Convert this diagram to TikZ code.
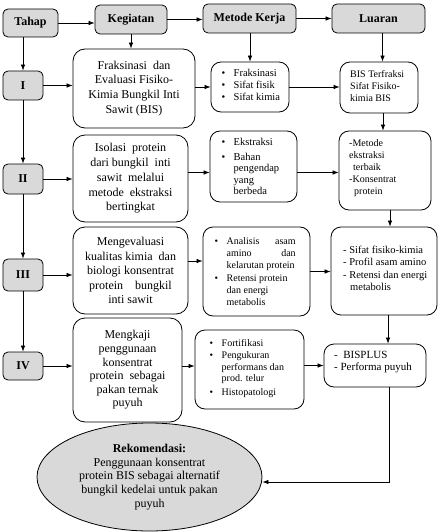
\documentclass[tikz,border=0pt]{standalone}
\usepackage{fontspec}
\setmainfont{Liberation Serif}
\usetikzlibrary{arrows.meta,shapes.geometric,calc}
\definecolor{boxgray}{HTML}{D9D9D9}
\newcommand\bulx{\makebox[12pt][l]{\textbullet}}
\newcommand\indx{\hspace*{12pt}}
\begin{document}
\begin{tikzpicture}[x=1pt,y=-1pt,
  hdr/.style={draw, fill=boxgray, rounded corners=5pt, line width=0.8pt, inner sep=0,
    font=\fontsize{12}{14}\selectfont\bfseries},
  cbox/.style={draw, rounded corners=12pt, line width=0.8pt, inner sep=0, align=center,
    font=\fontsize{12}{14.8}\selectfont},
  sbox/.style={draw, rounded corners=10pt, line width=0.8pt, inner sep=0},
  txt/.style={inner sep=0, anchor=north west, align=left, font=\fontsize{10}{12}\selectfont},
  arr/.style={-{Latex[length=6pt,width=4.5pt]}, line width=0.7pt}]
\useasboundingbox (0,0) rectangle (440,532);

% header row
\node[hdr, minimum width=55pt, minimum height=28pt] (tahap) at (30.5,23) {Tahap};
\node[hdr, minimum width=72pt, minimum height=29pt] (keg) at (131,19.5) {Kegiatan};
\node[hdr, minimum width=93pt, minimum height=29pt] (met) at (249.5,18.5) {Metode Kerja};
\node[hdr, minimum width=93pt, minimum height=29pt] (lua) at (378.5,18.5) {Luaran};

% stages
\node[hdr, minimum width=40pt, minimum height=29pt] (s1) at (23,85.5) {I};
\node[hdr, minimum width=40pt, minimum height=30pt] (s2) at (23,179) {II};
\node[hdr, minimum width=40pt, minimum height=32pt] (s3) at (23,275) {III};
\node[hdr, minimum width=40pt, minimum height=28pt] (s4) at (23,366) {IV};

% kegiatan boxes
\node[cbox, minimum width=122pt, minimum height=79pt] (k1) at (134,88.5)
  {Fraksinasi\ \ dan\\Evaluasi Fisiko-\\Kimia Bungkil Inti\\Sawit (BIS)};
\node[cbox, minimum width=115pt, minimum height=87pt] (k2) at (130.5,178.5)
  {Isolasi\ \ protein\\dari bungkil\ \ inti\\sawit\ \ melalui\\metode\ \ ekstraksi\\bertingkat};
\node[cbox, minimum width=115pt, minimum height=87pt, font=\fontsize{12}{14.5}\selectfont] (k3) at (130.5,270.5)
  {Mengevaluasi\\kualitas kimia\ \ dan\\biologi konsentrat\\protein\ \ \ \ bungkil\\inti sawit};
\node[cbox, minimum width=109pt, minimum height=104pt, font=\fontsize{12}{13.6}\selectfont] (k4) at (127.5,370)
  {Mengkaji\\penggunaan\\konsentrat\\protein\ \ sebagai\\pakan ternak\\puyuh};

% metode boxes
\node[sbox, minimum width=78pt, minimum height=50pt] (m1) at (250,87) {};
\node[sbox, minimum width=87pt, minimum height=71pt] (m2) at (253.5,166.5) {};
\node[sbox, minimum width=107pt, minimum height=89pt] (m3) at (256.5,271.5) {};
\node[sbox, minimum width=109pt, minimum height=79pt] (m4) at (249.5,369.5) {};

% luaran boxes
\node[sbox, minimum width=78pt, minimum height=51pt] (l1) at (379,87.5) {};
\node[sbox, minimum width=92pt, minimum height=79pt] (l2) at (385,170.5) {};
\node[sbox, minimum width=106pt, minimum height=88pt] (l3) at (384,271) {};
\node[sbox, minimum width=102pt, minimum height=43pt] (l4) at (375,365.5) {};

% texts in metode boxes
\node[txt, font=\fontsize{10.5}{12}\selectfont] (tm1) at (221.5,69.5) {\bulx Fraksinasi\\\bulx Sifat fisik\\\bulx Sifat kimia};
\node[txt, font=\fontsize{10.5}{11.5}\selectfont] (tm2) at (221.5,138)
  {\bulx Ekstraksi\\[3.5pt]\bulx Bahan\\\indx pengendap\\\indx yang\\\indx berbeda};
\node[txt] (tm3) at (214.5,237)
  {\bulx\makebox[69pt][s]{Analisis asam}\\\indx\makebox[69pt][s]{amino dan}\\\indx kelarutan protein\\[1pt]\bulx Retensi protein\\\indx dan energi\\\indx metabolis};
\node[txt, font=\fontsize{10}{11.5}\selectfont] (tm4) at (209.5,339)
  {\bulx Fortifikasi\\[1pt]\bulx Pengukuran\\\indx performans dan\\\indx prod. telur\\[2pt]\bulx Histopatologi};

% texts in luaran boxes
\node[txt] (tl1) at (350,70) {BIS Terfraksi\\Sifat Fisiko-\\kimia BIS};
\node[txt] (tl2) at (349,139)
  {-Metode\\ ekstraksi\\\hspace*{4pt}terbaik\\-Konsentrat\\\hspace*{5pt}protein};
\node[txt, font=\fontsize{10.5}{12.3}\selectfont] (tl3) at (343,246)
  {- Sifat fisiko-kimia\\- Profil asam amino\\- Retensi dan energi\\\hspace*{7pt}metabolis};
\node[txt, font=\fontsize{11}{11.5}\selectfont] (tl4) at (334,351.5)
  {-\ \ BISPLUS\\- Performa puyuh};

% recommendation
\node[draw, fill=boxgray, ellipse, line width=0.8pt, minimum width=225pt, minimum height=108pt,
  inner sep=0, align=center, font=\fontsize{12}{13.7}\selectfont] (rek) at (149.5,477)
  {\textbf{Rekomendasi:}\\Penggunaan konsentrat\\protein BIS sebagai alternatif\\bungkil kedelai untuk pakan\\puyuh};

% header arrows
\draw[arr] (tahap.east) -- (tahap.east -| keg.west);
\draw[arr] (keg.east) -- (keg.east -| met.west);
\draw[arr] (met.east) -- (met.east -| lua.west);
\draw[arr] (keg.south) -- (keg.south |- k1.north);
\draw[arr] (met.south -| m1.north) -- (m1.north);
\draw[arr] ([xshift=4pt]lua.south) -- ([xshift=4pt]lua.south |- l1.north);
\draw[arr] (tahap.south -| s1.north) -- (s1.north);

% stage column
\draw[arr] (s1) -- (s2);
\draw[arr] (s2) -- (s3);
\draw[arr] (s3) -- (s4);

% stage to kegiatan
\draw[arr] (s1.east) -- (s1.east -| k1.west);
\draw[arr] (s2.east) -- (s2.east -| k2.west);
\draw[arr] (s3.east) -- (s3.east -| k3.west);
\draw[arr] (s4.east) -- (s4.east -| k4.west);

% kegiatan to metode
\draw[arr] (m1.west -| k1.east) -- (m1.west);
\draw[arr] ([yshift=-6pt]m2.west -| k2.east) -- ([yshift=-6pt]m2.west);
\draw[arr] ([yshift=10.5pt]m3.west -| k3.east) -- ([yshift=10.5pt]m3.west);
\draw[arr] ([yshift=3.5pt]m4.west -| k4.east) -- ([yshift=3.5pt]m4.west);

% metode to luaran
\draw[arr] (m1.east) -- (m1.east -| l1.west);
\draw[arr] ([yshift=-6pt]m2.east) -- ([yshift=-6pt]m2.east -| l2.west);
\draw[arr] (m3.east) -- (m3.east -| l3.west);
\draw[arr] (l4.west -| m4.east) -- (l4.west);

% luaran column
\draw[arr] ([xshift=4pt]l1.south) -- ([xshift=4pt]l1.south |- l2.north);
\draw[arr] ([xshift=5pt]l2.south) -- ([xshift=5pt]l2.south |- l3.north);
\draw[arr] ([xshift=4pt]l3.south) -- ([xshift=4pt]l3.south |- l4.north);
\draw[arr] ([xshift=14pt]l4.south) |- ([yshift=-5pt]rek.east);
\end{tikzpicture}
\end{document}
